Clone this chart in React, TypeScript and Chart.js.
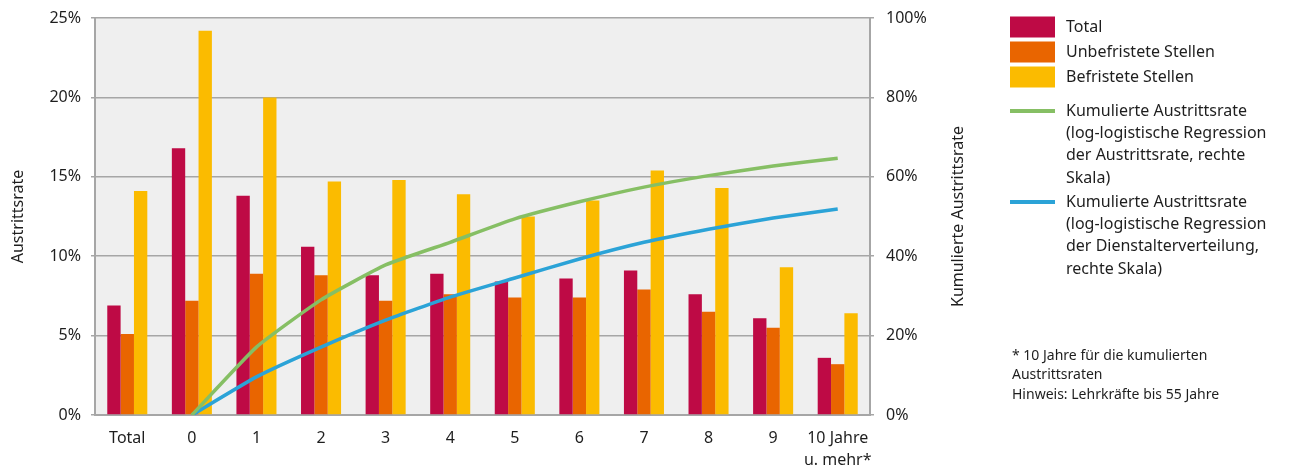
import React, { useEffect, useRef } from "react";
import { Chart, registerables } from "chart.js";

Chart.register(...registerables);

// Categories (years of service) and exit rates in percent
const categories: (string | string[])[] = ["Total", "0", "1", "2", "3", "4", "5", "6", "7", "8", "9", ["10 Jahre", "u. mehr*"]];
const totalRate = [6.9, 16.8, 13.8, 10.6, 8.8, 8.9, 8.4, 8.6, 9.1, 7.6, 6.1, 3.6];
const permanentRate = [5.1, 7.2, 8.9, 8.8, 7.2, 7.6, 7.4, 7.4, 7.9, 6.5, 5.5, 3.2];
const fixedTermRate = [14.1, 24.2, 20.0, 14.7, 14.8, 13.9, 12.5, 13.5, 15.4, 14.3, 9.3, 6.4];

// Cumulative exit rates (right scale), no value for the "Total" column
const cumulativeByRate = [null, 0, 17.1, 29.0, 37.8, 43.5, 49.4, 53.7, 57.4, 60.3, 62.7, 64.7];
const cumulativeBySeniority = [null, 0, 9.6, 17.1, 23.9, 29.7, 34.5, 39.3, 43.5, 46.8, 49.6, 51.9];

const leftTicks = [0, 5, 10, 15, 20, 25];
const rightTicks = [0, 20, 40, 60, 80, 100];

const COLORS = {
  total: "#be0a45",
  permanent: "#e96500",
  fixedTerm: "#fbbb00",
  green: "#86bf64",
  blue: "#2ba3d7",
  plotBg: "#efefef",
  grid: "#a6a6a6",
  text: "#1e1e1e",
};

const FONT = "'Noto Sans', 'Open Sans', sans-serif";

const legendBoxes = [
  { label: "Total", color: COLORS.total },
  { label: "Unbefristete Stellen", color: COLORS.permanent },
  { label: "Befristete Stellen", color: COLORS.fixedTerm },
];
const legendLines = [
  {
    color: COLORS.green,
    lines: ["Kumulierte Austrittsrate", "(log-logistische Regression", "der Austrittsrate, rechte", "Skala)"],
  },
  {
    color: COLORS.blue,
    lines: ["Kumulierte Austrittsrate", "(log-logistische Regression", "der Dienstalterverteilung,", "rechte Skala)"],
  },
];
const footnote = ["* 10 Jahre für die kumulierten", "Austrittsraten", "Hinweis: Lehrkräfte bis 55 Jahre"];

const plotBackground = {
  id: "plotBackground",
  beforeDraw(chart: any) {
    const { ctx, chartArea } = chart;
    ctx.save();
    ctx.fillStyle = COLORS.plotBg;
    ctx.fillRect(chartArea.left, chartArea.top, chartArea.right - chartArea.left, chartArea.bottom - chartArea.top);
    ctx.restore();
  },
};

const annotations = {
  id: "annotations",
  afterDraw(chart: any) {
    const { ctx, chartArea } = chart;
    const midY = (chartArea.top + chartArea.bottom) / 2;
    ctx.save();
    ctx.fillStyle = COLORS.text;
    ctx.font = `16px ${FONT}`;
    ctx.textAlign = "center";
    ctx.textBaseline = "middle";

    // axis titles, both reading bottom to top
    ctx.save();
    ctx.translate(18, midY);
    ctx.rotate(-Math.PI / 2);
    ctx.fillText("Austrittsrate", 0, 0);
    ctx.restore();

    ctx.save();
    ctx.translate(958, midY);
    ctx.rotate(-Math.PI / 2);
    ctx.fillText("Kumulierte Austrittsrate", 0, 0);
    ctx.restore();

    // legend
    const boxX = 1010;
    const textX = 1066;
    ctx.textAlign = "left";
    legendBoxes.forEach((item, i) => {
      const cy = 27 + i * 25;
      ctx.fillStyle = item.color;
      ctx.fillRect(boxX, cy - 10.5, 45, 21);
      ctx.fillStyle = COLORS.text;
      ctx.fillText(item.label, textX, cy);
    });
    legendLines.forEach((item, i) => {
      const top = 111 + i * 91;
      ctx.strokeStyle = item.color;
      ctx.lineWidth = 4;
      ctx.beginPath();
      ctx.moveTo(boxX, top);
      ctx.lineTo(boxX + 45, top);
      ctx.stroke();
      ctx.fillStyle = COLORS.text;
      item.lines.forEach((t, j) => ctx.fillText(t, textX, top + j * 22.4));
    });

    // footnote
    ctx.font = `14px ${FONT}`;
    footnote.forEach((t, j) => ctx.fillText(t, 1012, 356 + j * 19.5));
    ctx.restore();
  },
};

// Fixed axis widths and no extra label padding so the plot area is set by layout.padding
const fitWidth = (w: number) => (scale: any) => {
  scale.width = w;
  scale.paddingTop = 0;
  scale.paddingBottom = 0;
};

export default function App() {
  const canvasRef = useRef<HTMLCanvasElement | null>(null);

  useEffect(() => {
    document.body.style.margin = "0";
    const canvas = canvasRef.current;
    if (!canvas) return;

    const tickFont = { family: FONT, size: 16 };

    const chart = new Chart(canvas, {
      type: "bar",
      data: {
        labels: categories,
        datasets: [
          { type: "line", label: "Kumulierte Austrittsrate (Austrittsrate)", data: cumulativeByRate, yAxisID: "y1", borderColor: COLORS.green, borderWidth: 3.5, pointRadius: 0, tension: 0.15, order: 0, spanGaps: false },
          { type: "line", label: "Kumulierte Austrittsrate (Dienstalter)", data: cumulativeBySeniority, yAxisID: "y1", borderColor: COLORS.blue, borderWidth: 3.5, pointRadius: 0, tension: 0.15, order: 0 },
          { type: "bar", label: "Total", data: totalRate, yAxisID: "y", backgroundColor: COLORS.total, order: 1, categoryPercentage: 0.62, barPercentage: 1 },
          { type: "bar", label: "Unbefristete Stellen", data: permanentRate, yAxisID: "y", backgroundColor: COLORS.permanent, order: 1, categoryPercentage: 0.62, barPercentage: 1 },
          { type: "bar", label: "Befristete Stellen", data: fixedTermRate, yAxisID: "y", backgroundColor: COLORS.fixedTerm, order: 1, categoryPercentage: 0.62, barPercentage: 1 },
        ] as any,
      },
      options: {
        responsive: false,
        animation: false,
        layout: { padding: { left: 0, right: 342, top: 18, bottom: 0 } },
        plugins: { legend: { display: false }, tooltip: { enabled: false } },
        scales: {
          x: {
            grid: { display: false, drawTicks: false },
            border: { display: true, color: COLORS.grid, width: 2 },
            ticks: { font: { ...tickFont, lineHeight: 1.4 }, color: COLORS.text, padding: 12, maxRotation: 0, autoSkip: false },
            afterFit(scale: any) {
              scale.height = 54;
              scale.paddingLeft = 0;
              scale.paddingRight = 0;
            },
          },
          y: {
            position: "left",
            min: 0,
            max: 25,
            afterBuildTicks(scale: any) {
              scale.ticks = leftTicks.map((v) => ({ value: v }));
            },
            ticks: { font: tickFont, color: COLORS.text, padding: 10, callback: (v: any) => `${v}%` },
            grid: { color: COLORS.grid, lineWidth: 1.5, tickLength: 4 },
            border: { color: COLORS.grid, width: 2 },
            afterFit: fitWidth(95),
          },
          y1: {
            position: "right",
            min: 0,
            max: 100,
            afterBuildTicks(scale: any) {
              scale.ticks = rightTicks.map((v) => ({ value: v }));
            },
            ticks: { font: tickFont, color: COLORS.text, padding: 12, callback: (v: any) => `${v}%` },
            grid: { drawOnChartArea: false, color: COLORS.grid, lineWidth: 1.5, tickLength: 4 },
            border: { color: COLORS.grid, width: 2 },
            afterFit: fitWidth(80),
          },
        },
      },
      plugins: [plotBackground, annotations],
    });

    return () => chart.destroy();
  }, []);

  return (
    <div style={{ width: 1292, height: 469 }}>
      <canvas ref={canvasRef} width={1292} height={469} />
    </div>
  );
}
